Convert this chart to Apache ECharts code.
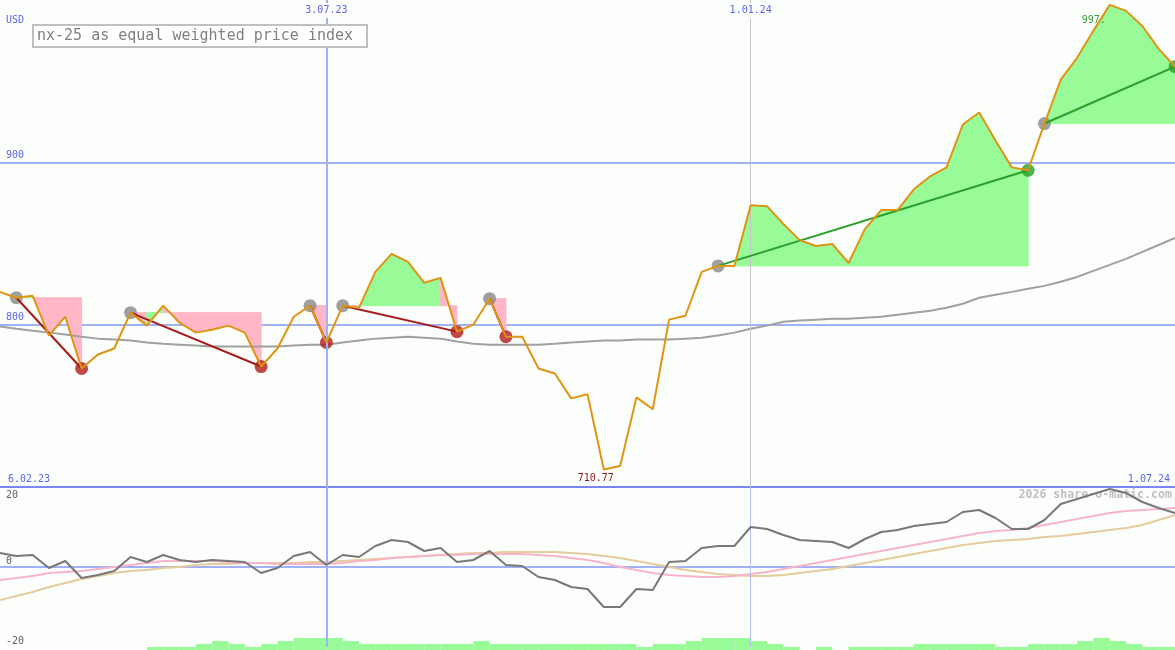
<!DOCTYPE html>
<html><head><meta charset="utf-8">
<script src="https://cdn.jsdelivr.net/npm/echarts@6/dist/echarts.min.js"></script>
<style>html,body{margin:0;padding:0;background:#fcfefc}#c{width:1175px;height:650px}</style>
</head><body><div id="c"></div>
<script>
// ---- data ----
const price = [820.2, 816.6, 817.8, 793.3, 804.9, 773.0, 781.6, 785.3, 807.4, 799.4,
 811.7, 801.2, 795.1, 796.9, 799.4, 795.1, 774.2, 785.3, 804.9, 811.7,
 789.0, 811.7, 810.4, 832.5, 843.6, 838.7, 825.8, 828.8, 795.7, 800.0,
 816.0, 792.6, 792.6, 773.0, 769.9, 754.6, 757.1, 710.77, 712.9, 755.2,
 747.9, 803.1, 805.5, 832.5, 836.2, 836.2, 873.6, 873.0, 862.0, 852.1,
 848.5, 849.7, 838.0, 858.9, 870.6, 870.6, 883.4, 891.4, 896.9, 923.3,
 930.7, 913.5, 896.9, 895.1, 923.9, 950.9, 964.4, 981.0, 997.0, 993.3,
 984.0, 969.9, 958.9];
const avg = [798.8, 797.5, 796.3, 795.1, 793.9, 792.6, 791.4, 790.8, 790.2, 789.0,
 788.3, 787.7, 787.1, 786.5, 786.5, 786.5, 786.5, 786.5, 787.1, 787.7,
 787.7, 789.0, 790.2, 791.4, 792.0, 792.6, 792.0, 791.4, 789.6, 788.3,
 787.7, 787.7, 787.7, 787.7, 788.3, 789.0, 789.6, 790.2, 790.2, 790.8,
 790.8, 790.8, 791.4, 792.0, 793.3, 795.1, 797.5, 799.4, 801.8, 802.5,
 803.1, 803.7, 803.7, 804.3, 804.9, 806.1, 807.4, 808.6, 810.4, 812.9,
 816.6, 818.4, 820.2, 822.1, 823.9, 826.4, 829.4, 833.1, 836.8, 840.5,
 844.8, 849.1, 853.4];
const osc = [3.5, 2.75, 3.0, -0.25, 1.5, -2.75, -2.0, -1.0, 2.5, 1.25,
 3.0, 1.75, 1.25, 1.75, 1.5, 1.25, -1.5, -0.25, 2.75, 3.75,
 0.5, 3.0, 2.5, 5.25, 6.75, 6.25, 4.0, 4.75, 1.25, 1.75,
 4.0, 0.5, 0.25, -2.5, -3.25, -5.0, -5.5, -10.0, -10.0, -5.5,
 -5.75, 1.25, 1.5, 4.75, 5.25, 5.25, 10.0, 9.5, 8.0, 6.75,
 6.5, 6.25, 4.75, 7.0, 8.75, 9.25, 10.25, 10.75, 11.25, 13.75,
 14.25, 12.25, 9.5, 9.5, 11.75, 15.75, 17.0, 18.25, 19.5, 18.5,
 16.25, 14.75, 13.5];
const oscFast = [-3.25, -2.75, -2.25, -1.5, -1.25, -1.0, -0.5, 0, 0.5, 1.0,
 1.5, 1.5, 1.5, 1.5, 1.25, 1.0, 1.0, 0.75, 0.75, 0.75,
 0.75, 1.0, 1.5, 1.75, 2.25, 2.5, 2.75, 3.0, 3.0, 3.25,
 3.25, 3.25, 3.25, 3.0, 2.75, 2.25, 1.75, 1.0, 0, -0.75,
 -1.5, -2.0, -2.25, -2.5, -2.5, -2.25, -1.75, -1.25, -0.5, 0.25,
 1.0, 1.75, 2.5, 3.25, 4.0, 4.75, 5.5, 6.25, 7.0, 7.75,
 8.5, 9.0, 9.25, 9.75, 10.5, 11.25, 12.0, 12.75, 13.5, 14.0,
 14.25, 14.5, 14.75];
const oscSlow = [-8.25, -7.25, -6.25, -5.0, -4.0, -3.0, -2.25, -1.5, -1.0, -0.75,
 -0.25, 0, 0.5, 0.75, 0.75, 1.0, 1.0, 1.0, 1.0, 1.25,
 1.25, 1.5, 1.75, 2.0, 2.25, 2.5, 2.75, 3.0, 3.25, 3.5,
 3.5, 3.75, 3.75, 3.75, 3.75, 3.5, 3.25, 2.75, 2.25, 1.5,
 0.75, 0, -0.75, -1.25, -1.75, -2.0, -2.25, -2.25, -2.0, -1.5,
 -1.0, -0.5, 0.25, 1.0, 1.75, 2.5, 3.25, 4.0, 4.75, 5.5,
 6.0, 6.5, 6.75, 7.0, 7.5, 7.75, 8.25, 8.75, 9.25, 9.75,
 10.5, 11.75, 13.0];
const volume = [0,0,0,0,0,0,0,0,0,1, 1,1,2,3,2,1,2,3,4,4,
 4,3,2,2,2,2,2,2,2,3, 2,2,2,2,2,2,2,2,2,1,
 2,2,3,4,4,4,3,2,1,0, 1,0,1,1,1,1,2,2,2,2,
 2,1,1,2,2,2,3,4,3,2, 1,1];
const peaks = [1, 8, 19, 21, 30, 44, 64];
const lows  = [5, 16, 20, 28, 31, 63, 72];
const topTickIdx = [20, 46];
const edgeLabels = ['6.02.23', '1.07.24'];
const priceTicks = [800, 900];
const oscTicks = [20, 0, -20];

// weekly categories (Mondays)
const weeks = [];
{
  let t = Date.UTC(2023, 1, 13);
  for (let i = 0; i < price.length; i++) {
    const d = new Date(t);
    weeks.push(d.getUTCDate() + '.' + String(d.getUTCMonth() + 1).padStart(2, '0') + '.' + String(d.getUTCFullYear()).slice(2));
    t += 7 * 86400000;
  }
}

const MONO = '"DejaVu Sans Mono", monospace';
const BLUE_TXT = '#5a64f0';
const GREEN_FILL = '#98fb98', PINK_FILL = '#ffb6c6';

const fillData = [];
const trendSeries = [];
const grayDots = [], redDots = [], greenDots = [];
peaks.forEach((p, s) => {
  const e = lows[s], L = price[p];
  for (let k = p; k < e; k++) fillData.push([k, price[k], price[k + 1], L]);
  const up = price[e] >= L;
  grayDots.push([weeks[p], price[p]]);
  (up ? greenDots : redDots).push([weeks[e], price[e]]);
  trendSeries.push({
    type: 'line', xAxisIndex: 0, yAxisIndex: 0, z: 5, symbol: 'none', silent: true,
    data: [[weeks[p], L], [weeks[e], price[e]]],
    lineStyle: { color: up ? '#2a9f2a' : '#a41c1c', width: 2 }
  });
});

const chart = echarts.init(document.getElementById('c'), null, { renderer: 'canvas' });

const vLines = (grid) => ({
  silent: true, symbol: ['none', 'none'], label: { show: false },
  data: [
    { xAxis: weeks[topTickIdx[0]], lineStyle: { color: '#a2b0f6', width: 2, type: 'solid' } },
    { xAxis: weeks[topTickIdx[1]], lineStyle: { color: grid === 0 ? '#c4c4cc' : '#b8c0f0', width: 1, type: 'solid' } }
  ]
});

chart.setOption({
  backgroundColor: '#fcfefc',
  animation: false,
  grid: [
    { left: 0, right: 0, top: -1, height: 488 },
    { left: 0, right: 0, top: 487, height: 160 },
    { left: 0, right: 0, top: 638, height: 12 }
  ],
  xAxis: [
    { gridIndex: 0, type: 'category', data: weeks, boundaryGap: false, position: 'top', z: 10,
      axisLine: { show: false }, axisTick: { show: false }, splitLine: { show: false },
      axisLabel: { inside: true, margin: 3, interval: (i) => topTickIdx.includes(i),
        color: BLUE_TXT, fontFamily: MONO, fontSize: 10, backgroundColor: '#fcfefc', padding: [2, 1, 3, 1] } },
    { gridIndex: 1, type: 'category', data: weeks, boundaryGap: false, position: 'top', z: 10,
      axisLine: { show: false }, axisTick: { show: false }, splitLine: { show: false },
      axisLabel: { inside: false, margin: 3, interval: (i) => i === 0 || i === weeks.length - 1,
        formatter: (v, i) => (i === 0 ? edgeLabels[0] : edgeLabels[1]),
        alignMinLabel: 'left', alignMaxLabel: 'right', padding: [0, 5, 0, 8],
        color: BLUE_TXT, fontFamily: MONO, fontSize: 10 } },
    { gridIndex: 2, type: 'category', data: weeks.slice(0, weeks.length - 1), boundaryGap: true, show: false }
  ],
  yAxis: [
    { gridIndex: 0, type: 'value', min: 700, max: 1000, interval: 100,
      axisLine: { show: false }, axisTick: { show: false },
      splitLine: { show: true, lineStyle: { color: ['#7a86f2', '#a2b0f6', '#a2b0f6', 'rgba(0,0,0,0)'], width: 2 } },
      axisLabel: { inside: true, margin: 6, verticalAlign: 'bottom', padding: [0, 0, 2, 0],
        formatter: (v) => (priceTicks.includes(v) ? String(v) : ''),
        color: BLUE_TXT, fontFamily: MONO, fontSize: 10 } },
    { gridIndex: 1, type: 'value', min: -20, max: 20, interval: 20,
      axisLine: { show: false }, axisTick: { show: false }, axisLabel: { show: false },
      splitLine: { show: true, lineStyle: { color: ['rgba(0,0,0,0)', '#a2b0f6', 'rgba(0,0,0,0)'], width: 2 } } },
    { gridIndex: 2, type: 'value', min: 0, max: 4, show: false }
  ],
  series: [
    { type: 'custom', xAxisIndex: 0, yAxisIndex: 0, z: 2, silent: true,
      data: fillData, encode: { x: 0, y: [1, 2, 3] },
      renderItem: (params, api) => {
        const k = api.value(0), p0 = api.value(1), p1 = api.value(2), L = api.value(3);
        const a = api.coord([k, p0]), b = api.coord([k + 1, p1]);
        const c = api.coord([k + 1, L]), e = api.coord([k, L]);
        const col = p1 >= L ? GREEN_FILL : PINK_FILL;
        return { type: 'polygon', shape: { points: [a, b, c, e] },
          style: { fill: col, stroke: col, lineWidth: 1 } };
      } },
    { type: 'line', name: 'avg', xAxisIndex: 0, yAxisIndex: 0, z: 3, symbol: 'none', silent: true,
      data: avg, lineStyle: { color: '#a0a0a0', width: 2 }, markLine: vLines(0) },
    { type: 'scatter', xAxisIndex: 0, yAxisIndex: 0, z: 4, symbolSize: 13, silent: true,
      data: grayDots, itemStyle: { color: '#888888' } },
    { type: 'scatter', xAxisIndex: 0, yAxisIndex: 0, z: 4, symbolSize: 13, silent: true,
      data: redDots, itemStyle: { color: '#b01c1c' } },
    { type: 'scatter', xAxisIndex: 0, yAxisIndex: 0, z: 4, symbolSize: 13, silent: true,
      data: greenDots, itemStyle: { color: '#24a024' } },
    ...trendSeries,
    { type: 'line', name: 'price', xAxisIndex: 0, yAxisIndex: 0, z: 6, symbol: 'none', silent: true,
      data: price, lineStyle: { color: '#e09414', width: 2 },
      markPoint: { silent: true, symbol: 'circle', symbolSize: 1, itemStyle: { color: 'rgba(0,0,0,0)' },
        data: [
          { type: 'min', label: { show: true, position: 'bottom', distance: 3, offset: [-8, 0],
            formatter: (p) => p.value.toFixed(2), color: '#8b1a1a', fontFamily: MONO, fontSize: 10 } },
          { type: 'max', label: { show: true, position: 'bottom', distance: 10, offset: [-16, 0],
            formatter: (p) => Math.floor(p.value) + '.', color: '#3a9a3a', fontFamily: MONO, fontSize: 10 } }
        ] } },
    { type: 'line', xAxisIndex: 1, yAxisIndex: 1, z: 3, symbol: 'none', silent: true,
      data: oscSlow, lineStyle: { color: '#e4cc9c', width: 2 }, markLine: vLines(1) },
    { type: 'line', xAxisIndex: 1, yAxisIndex: 1, z: 4, symbol: 'none', silent: true,
      data: oscFast, lineStyle: { color: '#f8b4c8', width: 2 } },
    { type: 'line', xAxisIndex: 1, yAxisIndex: 1, z: 5, symbol: 'none', silent: true,
      data: osc, lineStyle: { color: '#787878', width: 2 } },
    { type: 'bar', xAxisIndex: 2, yAxisIndex: 2, z: 2, silent: true, barWidth: '100%', barCategoryGap: '0%',
      data: volume, itemStyle: { color: GREEN_FILL } }
  ]
});

// labels positioned from the axis scales
const graphics = [
  { type: 'text', z: 0, silent: true, style: { text: '2026 share-o-matic.com', x: 1172, y: 495, align: 'right', verticalAlign: 'middle',
      fill: '#c0c0c0', font: 'bold 11.6px ' + MONO } },
  { type: 'text', z: 100, silent: true, style: { text: 'USD', x: 6, y: 20, verticalAlign: 'middle', fill: BLUE_TXT, font: '10px ' + MONO } },
  { type: 'rect', z: 100, silent: true, shape: { x: 33, y: 25, width: 334, height: 22 },
    style: { fill: '#ffffff', stroke: '#c0c0c0', lineWidth: 2 } },
  { type: 'text', z: 101, silent: true, style: { text: 'nx-25 as equal weighted price index', x: 37, y: 36.5,
      verticalAlign: 'middle', fill: '#808080', font: '15px ' + MONO } }
];
oscTicks.forEach((v) => {
  const py = chart.convertToPixel({ yAxisIndex: 1 }, v);
  const atTop = v === oscTicks[0];
  graphics.push({ type: 'text', z: 100, silent: true,
    style: { text: String(v), x: 6, y: atTop ? py + 3 : py - 1, verticalAlign: atTop ? 'top' : 'bottom',
      fill: '#606060', font: '10px ' + MONO } });
});
chart.setOption({ graphic: graphics });
</script>
</body></html>
